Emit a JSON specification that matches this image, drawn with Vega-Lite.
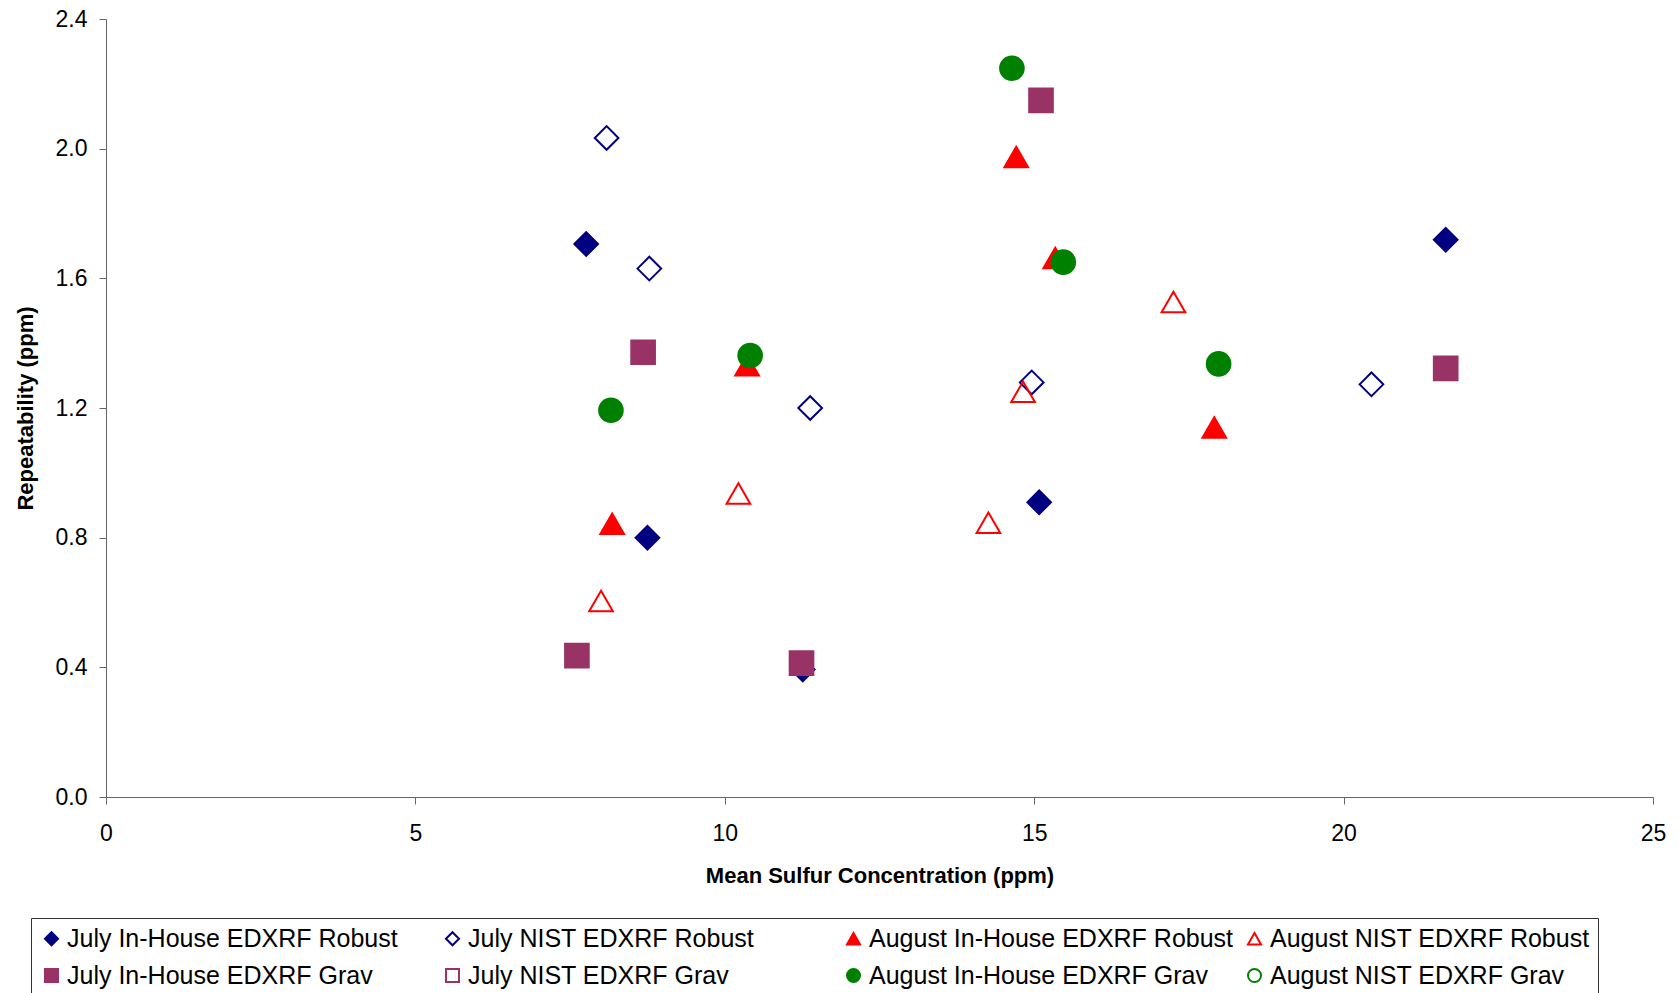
{
  "$schema": "https://vega.github.io/schema/vega-lite/v6.json",
  "autosize": {"type": "none"},
  "padding": {"left": 106, "top": 19, "right": 26, "bottom": 196},
  "width": 1547,
  "height": 778,
  "background": "white",
  "config": {
    "view": {"stroke": null},
    "font": "Liberation Sans"
  },
  "data": {
    "values": [
      {"series": "July In-House EDXRF Robust", "x": 7.76, "y": 1.706},
      {"series": "July In-House EDXRF Robust", "x": 8.75, "y": 0.80},
      {"series": "July In-House EDXRF Robust", "x": 11.26, "y": 0.393},
      {"series": "July In-House EDXRF Robust", "x": 15.08, "y": 0.909},
      {"series": "July In-House EDXRF Robust", "x": 21.65, "y": 1.719},
      {"series": "July NIST EDXRF Robust", "x": 8.09, "y": 2.033},
      {"series": "July NIST EDXRF Robust", "x": 8.78, "y": 1.63},
      {"series": "July NIST EDXRF Robust", "x": 11.38, "y": 1.20},
      {"series": "July NIST EDXRF Robust", "x": 14.96, "y": 1.279},
      {"series": "July NIST EDXRF Robust", "x": 20.45, "y": 1.273},
      {"series": "August In-House EDXRF Robust", "x": 14.71, "y": 1.974},
      {"series": "August In-House EDXRF Robust", "x": 15.34, "y": 1.663},
      {"series": "August In-House EDXRF Robust", "x": 10.36, "y": 1.332},
      {"series": "August In-House EDXRF Robust", "x": 8.18, "y": 0.843},
      {"series": "August In-House EDXRF Robust", "x": 17.91, "y": 1.14},
      {"series": "August NIST EDXRF Robust", "x": 17.25, "y": 1.527},
      {"series": "August NIST EDXRF Robust", "x": 14.82, "y": 1.25},
      {"series": "August NIST EDXRF Robust", "x": 10.22, "y": 0.936},
      {"series": "August NIST EDXRF Robust", "x": 14.26, "y": 0.846},
      {"series": "August NIST EDXRF Robust", "x": 8.0, "y": 0.605},
      {"series": "July In-House EDXRF Grav", "x": 15.11, "y": 2.149},
      {"series": "July In-House EDXRF Grav", "x": 8.68, "y": 1.372},
      {"series": "July In-House EDXRF Grav", "x": 21.65, "y": 1.322},
      {"series": "July In-House EDXRF Grav", "x": 7.61, "y": 0.436},
      {"series": "July In-House EDXRF Grav", "x": 11.24, "y": 0.413},
      {"series": "August In-House EDXRF Grav", "x": 14.64, "y": 2.248},
      {"series": "August In-House EDXRF Grav", "x": 15.47, "y": 1.65},
      {"series": "August In-House EDXRF Grav", "x": 10.41, "y": 1.362},
      {"series": "August In-House EDXRF Grav", "x": 17.98, "y": 1.336},
      {"series": "August In-House EDXRF Grav", "x": 8.16, "y": 1.193}
    ]
  },
  "mark": {"type": "point", "size": 560, "strokeWidth": 2, "opacity": 1},
  "encoding": {
    "x": {
      "field": "x", "type": "quantitative",
      "scale": {"domain": [0, 25], "nice": false, "zero": true},
      "axis": {
        "title": "Mean Sulfur Concentration (ppm)",
        "values": [0, 5, 10, 15, 20, 25],
        "grid": false, "labelFlush": false,
        "domainColor": "#666666", "tickColor": "#666666",
        "tickSize": 7, "labelPadding": 18,
        "labelFontSize": 23, "labelColor": "black",
        "labelFont": "Liberation Sans",
        "titleFontSize": 22, "titleFont": "Liberation Sans", "titleFontWeight": "bold",
        "titleColor": "black", "titlePadding": 20
      }
    },
    "y": {
      "field": "y", "type": "quantitative",
      "scale": {"domain": [0, 2.4], "nice": false},
      "axis": {
        "title": "Repeatability (ppm)",
        "values": [0, 0.4, 0.8, 1.2, 1.6, 2.0, 2.4],
        "format": ".1f",
        "grid": false, "labelFlush": false,
        "domainColor": "#666666", "tickColor": "#666666",
        "tickSize": 7, "labelPadding": 12,
        "labelFontSize": 23, "labelColor": "black",
        "labelFont": "Liberation Sans",
        "titleFontSize": 22, "titleFont": "Liberation Sans", "titleFontWeight": "bold",
        "titleColor": "black", "titlePadding": 18
      }
    },
    "color": {
      "field": "series", "type": "nominal",
      "scale": {
        "domain": ["July In-House EDXRF Robust", "July NIST EDXRF Robust", "August In-House EDXRF Robust", "August NIST EDXRF Robust", "July In-House EDXRF Grav", "July NIST EDXRF Grav", "August In-House EDXRF Grav", "August NIST EDXRF Grav"],
        "range": ["#000080", "#000080", "#FF0000", "#FF0000", "#993366", "#993366", "#008000", "#008000"]
      },
      "legend": {
        "title": null, "orient": "none", "legendX": -75, "legendY": 899,
        "direction": "horizontal", "columns": 4, "gridAlign": "all",
        "strokeColor": "#333333", "padding": 8, "fillColor": "white",
        "symbolSize": 170, "symbolStrokeWidth": 2, "labelFontSize": 25,
        "labelFont": "Liberation Sans", "labelColor": "black", "labelLimit": 500,
        "columnPadding": 8, "rowPadding": 11, "labelOffset": 3
      }
    },
    "fill": {
      "field": "series", "type": "nominal",
      "scale": {
        "domain": ["July In-House EDXRF Robust", "July NIST EDXRF Robust", "August In-House EDXRF Robust", "August NIST EDXRF Robust", "July In-House EDXRF Grav", "July NIST EDXRF Grav", "August In-House EDXRF Grav", "August NIST EDXRF Grav"],
        "range": ["#000080", "transparent", "#FF0000", "transparent", "#993366", "transparent", "#008000", "transparent"]
      },
      "legend": null
    },
    "shape": {
      "field": "series", "type": "nominal",
      "scale": {
        "domain": ["July In-House EDXRF Robust", "July NIST EDXRF Robust", "August In-House EDXRF Robust", "August NIST EDXRF Robust", "July In-House EDXRF Grav", "July NIST EDXRF Grav", "August In-House EDXRF Grav", "August NIST EDXRF Grav"],
        "range": ["diamond", "diamond", "triangle-up", "triangle-up", "square", "square", "circle", "circle"]
      },
      "legend": null
    }
  }
}
